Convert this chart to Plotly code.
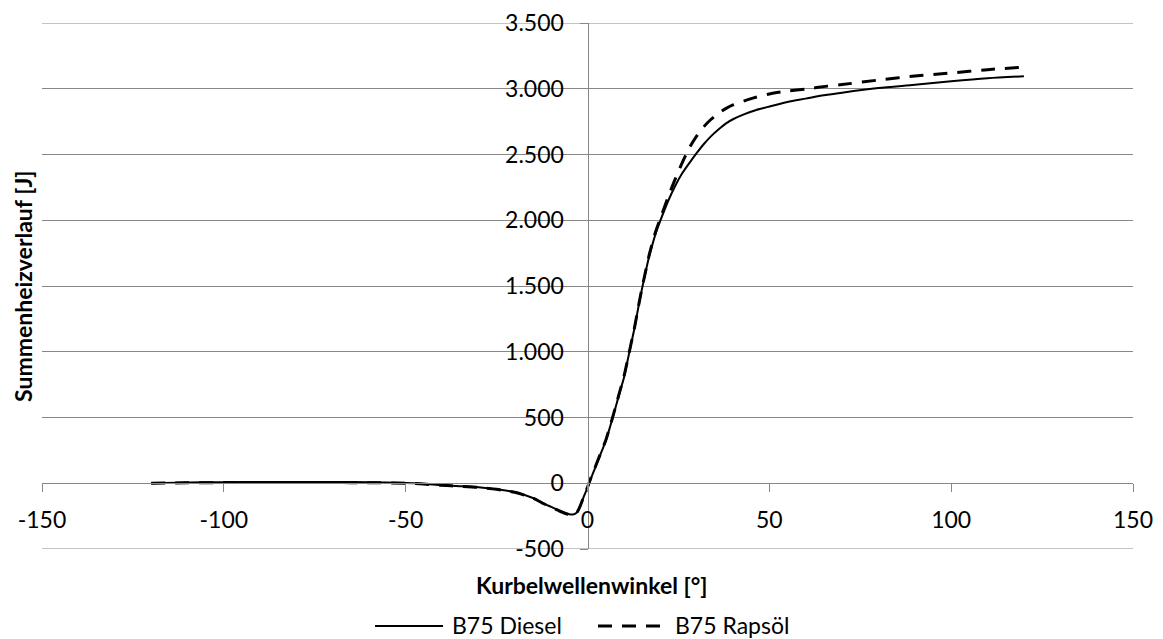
import plotly.graph_objects as go

# ---------------- data ----------------
x_diesel = [-120, -110, -100, -90, -80, -70, -60, -50, -45, -40, -35, -30, -25, -20, -15, -12, -10, -8, -6,
            -5, -4, -3, -2, -1, 0, 1, 2, 3, 4, 5, 6, 7, 8, 9, 10, 11, 12, 13, 14, 15, 16, 17, 18, 19, 20,
            22, 24, 26, 28, 30, 32, 34, 36, 38, 40, 43, 46, 50, 55, 60, 65, 70, 80, 90, 100, 110, 120]
y_diesel = [0, 5, 8, 9, 10, 10, 8, 2, -5, -15, -22, -30, -45, -68, -112, -155, -180, -205, -228,
            -236, -238, -225, -175, -100, -35, 40, 110, 180, 250, 320, 410, 505, 605, 705, 800, 930, 1060,
            1190, 1340, 1480, 1610, 1730, 1830, 1920, 1995,
            2135, 2255, 2355, 2435, 2510, 2580, 2640, 2690, 2735, 2768, 2805, 2835, 2865, 2900, 2925, 2950,
            2970, 3005, 3030, 3057, 3080, 3095]

x_raps = [-120, -110, -100, -90, -80, -70, -60, -50, -45, -40, -35, -30, -25, -20, -15, -12, -10, -8, -6,
          -5, -4, -3, -2, -1, 0, 1, 2, 3, 4, 5, 6, 7, 8, 9, 10, 11, 12, 13, 14, 15, 16, 17, 18, 19, 20,
          22, 24, 26, 28, 30, 32, 34, 36, 38, 40, 45, 50, 55, 60, 66, 70, 80, 90, 100, 110, 120]
y_raps = [0, 3, 5, 6, 6, 5, 4, 0, -6, -16, -23, -31, -46, -69, -113, -156, -182, -207, -230,
          -238, -240, -226, -172, -98, -30, 45, 115, 185, 255, 325, 415, 510, 610, 710, 810, 935, 1065,
          1195, 1345, 1485, 1615, 1740, 1845, 1935, 2010,
          2165, 2305, 2435, 2550, 2640, 2712, 2768, 2813, 2849, 2877, 2925, 2960, 2983, 2998, 3020, 3032,
          3066, 3097, 3120, 3145, 3165]

x_ticks = [-150, -100, -50, 0, 50, 100, 150]
x_ticktext = ["-150", "-100", "-50", "0", "50", "100", "150"]
y_ticks = [-500, 0, 500, 1000, 1500, 2000, 2500, 3000, 3500]
y_ticktext = ["-500", "0", "500", "1.000", "1.500", "2.000", "2.500", "3.000", "3.500"]

series_names = ["B75 Diesel", "B75 Rapsöl"]
x_title = "Kurbelwellenwinkel [°]"
y_title = "Summenheizverlauf [J]"

# ---------------- style ----------------
FONT = "Lato"
GRID = "#878787"
W, H = 1163, 639
L, R, T, B = 42, 30, 23, 90
PW, PH = W - L - R, H - T - B


def px2paper_x(px):
    return (px - L) / PW


def px2paper_y(py):
    return (H - B - py) / PH


fig = go.Figure()
fig.add_trace(go.Scatter(x=x_diesel, y=y_diesel, mode="lines", name=series_names[0],
                         line=dict(color="black", width=2, shape="spline", smoothing=0.7),
                         showlegend=False))
fig.add_trace(go.Scatter(x=x_raps, y=y_raps, mode="lines", name=series_names[1],
                         line=dict(color="black", width=3, dash="14px,10px", shape="spline", smoothing=0.7),
                         showlegend=False))

fig.update_layout(
    width=W, height=H,
    margin=dict(l=L, r=R, t=T, b=B, autoexpand=False),
    paper_bgcolor="white", plot_bgcolor="white",
    font=dict(family=FONT, size=23, color="black"),
    xaxis=dict(
        range=[-150, 150], tickmode="array", tickvals=x_ticks, ticktext=x_ticktext,
        showgrid=False, zeroline=False, showline=True, linecolor=GRID, linewidth=1,
        ticks="outside", ticklen=8, tickcolor=GRID, tickwidth=1, automargin=False,
        anchor="free", position=0.125, ticklabelstandoff=8,
        tickfont=dict(family=FONT, size=23, color="black"),
    ),
    yaxis=dict(
        range=[-500, 3500], tickmode="array", tickvals=y_ticks, ticktext=y_ticktext,
        showgrid=True, gridcolor=GRID, gridwidth=1, zeroline=False,
        showline=True, linecolor=GRID, linewidth=1, automargin=False,
        ticks="outside", ticklen=8, tickcolor=GRID, tickwidth=1,
        anchor="free", position=0.5, ticklabelstandoff=11,
        tickfont=dict(family=FONT, size=23, color="black"),
    ),
)

LEG_Y = 625
annotations = [
    dict(text="<b>" + x_title + "</b>", x=px2paper_x(591), y=px2paper_y(585), xref="paper", yref="paper",
         xanchor="center", yanchor="middle", showarrow=False, font=dict(family=FONT, size=23, color="black")),
    dict(text="<b>" + y_title + "</b>", x=px2paper_x(23), y=px2paper_y(286), xref="paper", yref="paper",
         xanchor="center", yanchor="middle", textangle=-90, showarrow=False,
         font=dict(family=FONT, size=23, color="black")),
    dict(text=series_names[0], x=px2paper_x(450), y=px2paper_y(LEG_Y), xref="paper", yref="paper",
         xanchor="left", yanchor="middle", showarrow=False, font=dict(family=FONT, size=23, color="black")),
    dict(text=series_names[1], x=px2paper_x(673), y=px2paper_y(LEG_Y), xref="paper", yref="paper",
         xanchor="left", yanchor="middle", showarrow=False, font=dict(family=FONT, size=23, color="black")),
]
# boundary gridlines (plotly omits gridlines at the range ends)
shapes = [
    dict(type="line", xref="paper", yref="y", x0=0, x1=1, y0=yv, y1=yv, layer="below",
         line=dict(color=GRID, width=1))
    for yv in (y_ticks[0], y_ticks[-1])
]
# custom legend symbols
shapes += [
    dict(type="line", xref="paper", yref="paper", x0=px2paper_x(375), x1=px2paper_x(443),
         y0=px2paper_y(LEG_Y + 1), y1=px2paper_y(LEG_Y + 1), line=dict(color="black", width=2)),
    dict(type="line", xref="paper", yref="paper", x0=px2paper_x(598), x1=px2paper_x(665),
         y0=px2paper_y(LEG_Y + 1), y1=px2paper_y(LEG_Y + 1),
         line=dict(color="black", width=3, dash="14px,10px")),
]
fig.update_layout(annotations=annotations, shapes=shapes)

fig.write_html(
    "out.html",
    config={"displayModeBar": False},
    post_script="document.body.style.margin='0';document.body.style.padding='0';"
                "document.body.style.overflow='hidden';",
)
